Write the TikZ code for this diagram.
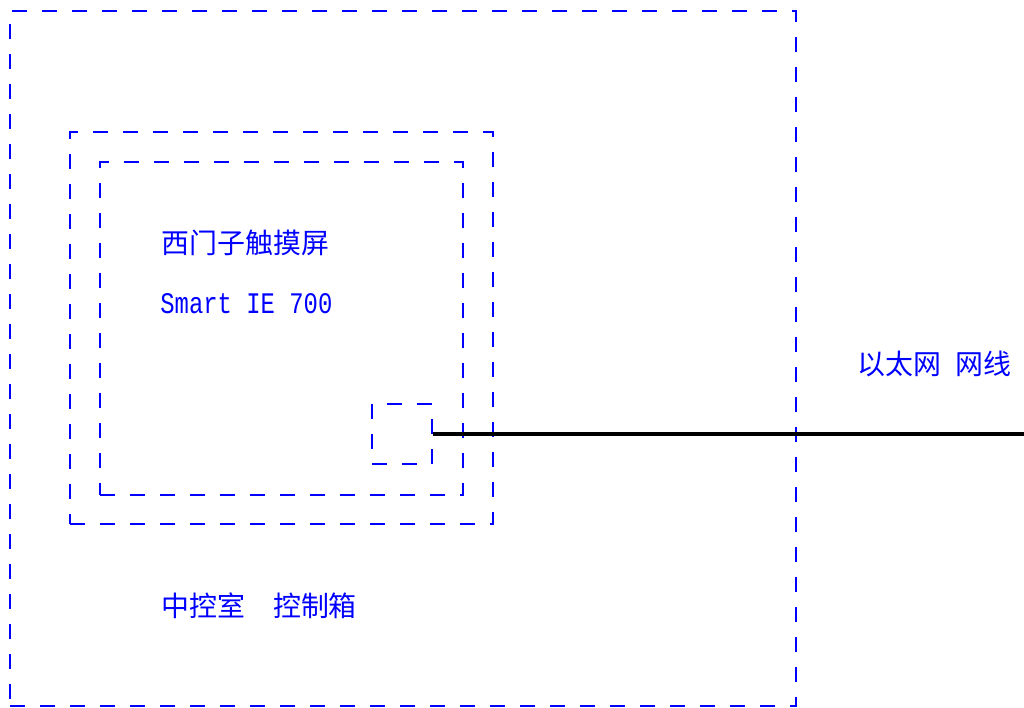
\documentclass[tikz,border=0pt]{standalone}
\usepackage{fontspec}
\newfontfamily\cjk{Noto Sans CJK SC}
\newfontfamily\latinmono[FakeStretch=0.8]{Liberation Mono}
\usepackage{tikz}
\usetikzlibrary{positioning}

\begin{document}
\begin{tikzpicture}[x=0.02cm, y=-0.02cm,
	box/.style={draw=blue, rectangle, line width=1.1pt, dash pattern=on 0.3cm off 0.3cm, inner sep=0pt},
	label/.style={text=blue, anchor=west, inner sep=0pt, font=\cjk\fontsize{15.9pt}{18pt}\selectfont}]
	\useasboundingbox (0,0) rectangle (1024,707);
	
	\node[box, minimum width=15.72cm, minimum height=13.9cm] (cabinet) at (403,358.5) {};
	\node[box, minimum width=8.46cm, minimum height=7.84cm] (frame) at (281.5,328) {};
	\node[box, minimum width=7.26cm, minimum height=6.66cm] (screen) at (281.5,328.5) {};
	\node[box, minimum width=1.2cm, minimum height=1.2cm] (port) at (402,434) {};
	\coordinate (cableend) at (1024,434);
	
	\node[label] (hmi) at (161,243) {西门子触摸屏};
	\node[label, font=\latinmono\fontsize{17pt}{18pt}\selectfont] (model) at (160,304) {Smart IE 700};
	\node[label] (cable) at (857,364) {以太网\hspace{0.5em}网线};
	\node[label] (room) at (161,606) {中控室　控制箱};
	
	\draw[line width=2.3pt] (port.east) -- (cableend);
\end{tikzpicture}
\end{document}
